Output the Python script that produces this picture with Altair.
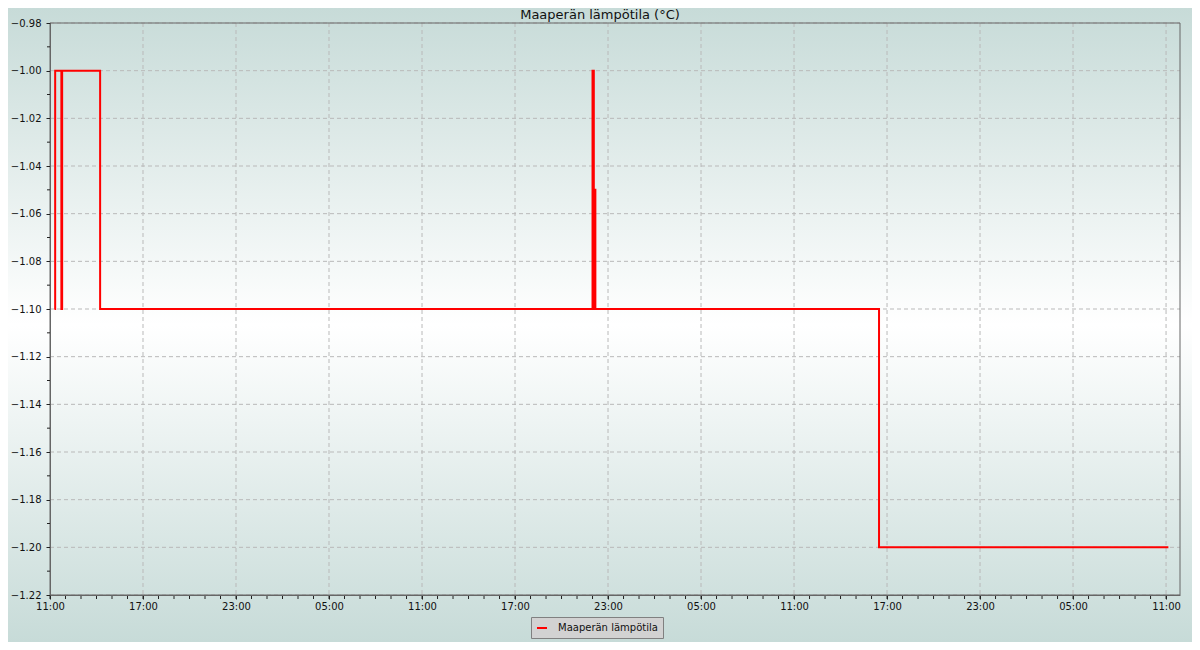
import altair as alt
import pandas as pd

# ---- data ----
times = ["2024-01-15T11:17:00Z", "2024-01-15T11:20:00Z", "2024-01-15T11:44:00Z",
         "2024-01-15T11:47:00Z", "2024-01-15T14:14:00Z", "2024-01-16T22:00:00Z",
         "2024-01-16T22:05:00Z", "2024-01-16T22:07:00Z", "2024-01-16T22:11:00Z",
         "2024-01-17T16:29:00Z", "2024-01-18T11:09:00Z"]
values = [-1.10, -1.00, -1.10, -1.00, -1.10, -1.00, -1.10, -1.05, -1.10, -1.20, -1.20]
series_name = "Maaperän lämpötila"
title_text = "Maaperän lämpötila (°C)"

y_major = [-0.98, -1.00, -1.02, -1.04, -1.06, -1.08, -1.10, -1.12, -1.14,
           -1.16, -1.18, -1.20, -1.22]
y_minor = [-0.99, -1.01, -1.03, -1.05, -1.07, -1.09, -1.11, -1.13, -1.15,
           -1.17, -1.19, -1.21]

start = pd.Timestamp("2024-01-15T11:00:00Z")
x_major_hours = [0, 6, 12, 18, 24, 30, 36, 42, 48, 54, 60, 66, 72]
x_minor_hours = list(range(0, 73))
domain_end_hours = 72.9

def ms(h):
    return int((start + pd.Timedelta(hours=h)).timestamp() * 1000)

df = pd.DataFrame({"time": times, "value": values, "series": series_name})
ticks_x = pd.DataFrame({"t": [ms(h) for h in x_minor_hours]})
ticks_y = pd.DataFrame({"v": y_minor})
grid_x = pd.DataFrame({"t": [ms(h) for h in x_major_hours[1:-0 or None]]})
grid_y = pd.DataFrame({"v": y_major})
one = pd.DataFrame({"label": [title_text]})

W, H = 1130, 572
PAD = {"left": 42, "top": 15, "right": 12, "bottom": 47}
GRID = "#b9b9b9"
AXC = "#666666"

xscale = alt.Scale(type="utc", domain=[ms(0), ms(domain_end_hours)], nice=False)
yscale = alt.Scale(domain=[-1.22, -0.98], nice=False, zero=False)

bg = alt.Chart(one).mark_rect(
    color=alt.Gradient(
        gradient="linear", x1=0, y1=0, x2=0, y2=1,
        stops=[alt.GradientStop(color="#c7dbd8", offset=0),
               alt.GradientStop(color="#ffffff", offset=0.5),
               alt.GradientStop(color="#c7dbd8", offset=1)]),
    clip=False,
).encode(
    x=alt.value(-PAD["left"]), x2=alt.value(W + PAD["right"]),
    y=alt.value(-PAD["top"]), y2=alt.value(H + PAD["bottom"]),
)

gx = alt.Chart(grid_x).mark_rule(color=GRID, strokeDash=[4, 3], strokeWidth=1).encode(
    x=alt.X("t:T", scale=xscale), y=alt.value(0), y2=alt.value(H))
gy = alt.Chart(grid_y).mark_rule(color=GRID, strokeDash=[4, 3], strokeWidth=1).encode(
    y=alt.Y("v:Q", scale=yscale), x=alt.value(0), x2=alt.value(W))

line = alt.Chart(df).mark_line(interpolate="step-after", strokeWidth=2).encode(
    x=alt.X("time:T", scale=xscale, title=None,
            axis=alt.Axis(values=[ms(h) for h in x_major_hours], format="%H:%M",
                          grid=False, zindex=2,
                          tickSize=4, tickColor="#222222", domainColor=AXC,
                          labelFontSize=10, labelFont="DejaVu Sans", labelColor="#111111",
                          labelPadding=2, labelFlush=False, labelOverlap=False)),
    y=alt.Y("value:Q", scale=yscale, title=None,
            axis=alt.Axis(values=y_major, format=".2f",
                          grid=False, zindex=2,
                          tickSize=4, tickColor="#222222", domainColor=AXC,
                          labelFontSize=10, labelFont="DejaVu Sans", labelColor="#111111",
                          labelPadding=5, labelFlush=False, labelOverlap=False)),
    color=alt.Color("series:N",
                    scale=alt.Scale(domain=[series_name], range=["#ff0000"]),
                    legend=alt.Legend(orient="none", legendX=481, legendY=594,
                                      direction="horizontal", title=None,
                                      fillColor="#d2d2d2", strokeColor="#808080",
                                      padding=5, symbolType="stroke", symbolSize=100,
                                      symbolStrokeWidth=2, labelFontSize=10,
                                      labelFont="DejaVu Sans", labelColor="#111111",
                                      labelOffset=10, zindex=2)),
)

frame = alt.Chart(one).mark_rect(fill=None, stroke=AXC, strokeWidth=1, clip=False).encode(
    x=alt.value(0), x2=alt.value(W), y=alt.value(0), y2=alt.value(H))

xt = alt.Chart(ticks_x).mark_rule(color="#222222", strokeWidth=1, clip=False).encode(
    x=alt.X("t:T", scale=xscale), y=alt.value(H), y2=alt.value(H + 4))

yt = alt.Chart(ticks_y).mark_rule(color="#222222", strokeWidth=1, clip=False).encode(
    y=alt.Y("v:Q", scale=yscale), x=alt.value(-3), x2=alt.value(0))

title = alt.Chart(one).mark_text(fontSize=13, font="DejaVu Sans", color="#111111",
                                 baseline="middle", align="center").encode(
    text="label:N", x=alt.value(550), y=alt.value(-8))

chart = alt.layer(bg, gx, gy, line, frame, xt, yt, title).properties(
    width=W, height=H,
    autosize=alt.AutoSizeParams(type="none"),
    padding=PAD,
    background="#c7dbd8",
).configure_view(stroke=None, fill=None)

chart.save("out.html", embed_options={"renderer": "svg", "actions": False})
